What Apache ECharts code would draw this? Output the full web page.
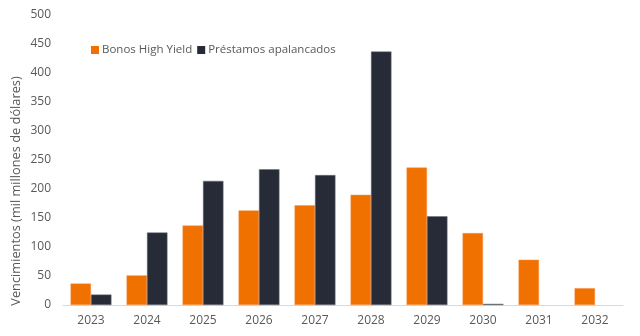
<!DOCTYPE html>
<html>
<head>
<meta charset="utf-8">
<script src="https://cdn.jsdelivr.net/npm/echarts@6/dist/echarts.min.js"></script>
<style>html,body{margin:0;padding:0;background:#fff;}#c{width:640px;height:336px;}</style>
</head>
<body>
<div id="c"></div>
<script>
var categories = ['2023','2024','2025','2026','2027','2028','2029','2030','2031','2032'];
var bonosHighYield = [37, 51, 137, 163, 172, 190, 237, 124, 78, 29];
var prestamosApalancados = [18, 125, 214, 234, 224, 437, 153, 2, null, null];
var seriesNames = ['Bonos High Yield', 'Préstamos apalancados'];
var yAxisTitle = 'Vencimientos (mil millones de dólares)';

var chart = echarts.init(document.getElementById('c'), null, {renderer: 'canvas'});
var font = 'Open Sans';
chart.setOption({
  animation: false,
  backgroundColor: '#ffffff',
  textStyle: {fontFamily: font},
  grid: {left: 63, right: 17, top: 15, bottom: 31, containLabel: false},
  legend: {
    left: 86, top: 39,
    itemWidth: 8, itemHeight: 8, itemGap: 5,
    icon: 'rect',
    itemStyle: {borderWidth: 0},
    textStyle: {fontFamily: font, fontSize: 11.5, color: '#595959', padding: [0,0,0,-2]},
    data: seriesNames
  },
  xAxis: {
    type: 'category',
    data: categories,
    axisLine: {lineStyle: {color: '#d9d9d9', width: 1}},
    axisTick: {show: false},
    axisLabel: {color: '#595959', fontSize: 12, fontFamily: font, margin: 10}
  },
  yAxis: {
    type: 'value',
    min: 0, max: 500, interval: 50,
    splitLine: {show: false},
    axisLine: {show: false},
    axisTick: {show: false},
    axisLabel: {color: '#595959', fontSize: 12, fontFamily: font, margin: 12}
  },
  graphic: [{
    type: 'text',
    x: 16, y: 191,
    rotation: Math.PI / 2,
    style: {
      text: yAxisTitle,
      fill: '#595959',
      font: '12.8px "Open Sans"',
      textAlign: 'center',
      textVerticalAlign: 'middle'
    }
  }],
  series: [
    {
      name: seriesNames[0], type: 'bar', data: bonosHighYield,
      barGap: '0%', barCategoryGap: '27%',
      itemStyle: {color: '#F07000', borderColor: '#F5934A', borderWidth: 0.5}
    },
    {
      name: seriesNames[1], type: 'bar', data: prestamosApalancados,
      barGap: '0%', barCategoryGap: '27%',
      itemStyle: {color: '#262B37', borderColor: '#6b6f78', borderWidth: 0.5}
    }
  ]
});
</script>
</body>
</html>
